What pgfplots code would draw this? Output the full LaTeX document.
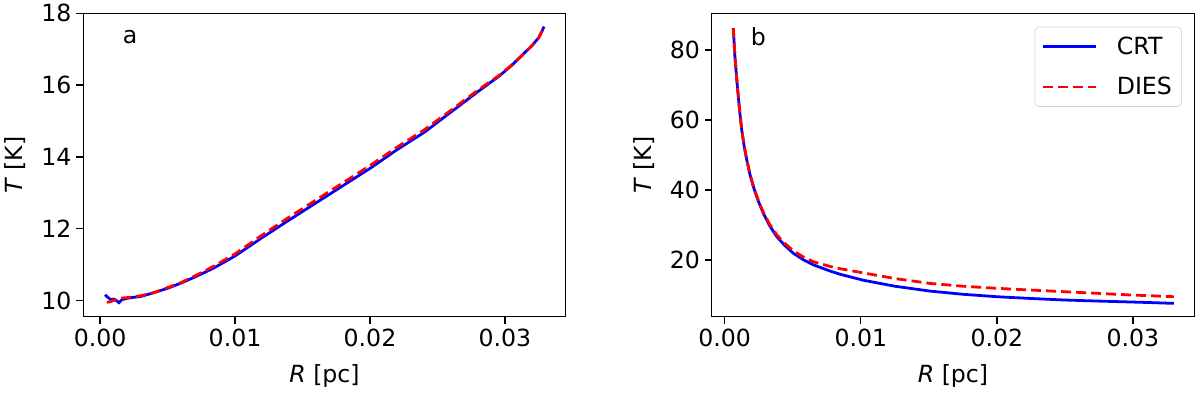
\documentclass[border=0pt]{standalone}
\usepackage{fontspec}
\setmainfont{DejaVu Sans}[ItalicFont={DejaVu Sans Oblique}]
\usepackage{pgfplots}
\pgfplotsset{compat=1.18}

% temperature profiles, panel a
\pgfplotstableread{
R T
0.00037 10.16
0.0006 10.08
0.0008 10.02
0.0010 10.04
0.0012 10.00
0.0014 9.94
0.0016 10.02
0.0020 10.06
0.0025 10.09
0.0030 10.11
0.0040 10.22
0.0050 10.34
0.0059 10.47
0.0070 10.65
0.0084 10.90
0.0100 11.24
0.0120 11.75
0.0140 12.24
0.0160 12.72
0.0180 13.20
0.0200 13.68
0.0220 14.20
0.0240 14.68
0.0260 15.25
0.0280 15.82
0.0296 16.26
0.0305 16.55
0.0314 16.88
0.0320 17.10
0.0325 17.32
0.0329 17.63
}\crta
\pgfplotstableread{
R T
0.0005 9.95
0.0008 9.97
0.0012 10.04
0.0016 10.07
0.0020 10.08
0.0030 10.13
0.0040 10.22
0.0050 10.36
0.0060 10.50
0.0070 10.68
0.0084 10.95
0.0100 11.30
0.0120 11.82
0.0140 12.32
0.0160 12.80
0.0180 13.28
0.0200 13.76
0.0220 14.27
0.0240 14.75
0.0260 15.30
0.0280 15.86
0.0296 16.28
0.0305 16.56
0.0314 16.88
0.0320 17.10
0.0325 17.32
0.0329 17.60
}\diesa
% panel b
\pgfplotstableread{
R T
0.00063 86.2
0.00075 78.0
0.00093 69.5
0.00110 62.5
0.00125 57.1
0.00145 52.0
0.00162 48.6
0.00185 44.5
0.00210 41.0
0.00245 37.0
0.00284 33.3
0.0033 29.8
0.00382 26.7
0.0044 24.2
0.00505 21.9
0.0058 20.0
0.00652 18.6
0.0077 16.9
0.0085 15.9
0.0102 14.2
0.0125 12.5
0.0151 11.1
0.0175 10.2
0.0200 9.5
0.0225 9.0
0.0249 8.57
0.0275 8.25
0.0298 8.0
0.0315 7.8
0.0330 7.6
}\crtb
\pgfplotstableread{
R T
0.00063 86.3
0.00075 78.1
0.00093 69.6
0.00110 62.6
0.00125 57.2
0.00145 52.1
0.00162 48.7
0.00185 44.6
0.00210 41.2
0.00245 37.2
0.00284 33.6
0.0033 30.2
0.00382 27.2
0.0044 24.8
0.00505 22.6
0.0058 20.8
0.00652 19.5
0.0077 18.2
0.0085 17.5
0.0102 16.3
0.0125 14.7
0.0151 13.3
0.0175 12.5
0.0200 11.9
0.0225 11.4
0.0249 10.95
0.0275 10.45
0.0298 10.0
0.0315 9.75
0.0330 9.5
}\diesb

\pgfplotsset{
  panel/.style={
    scale only axis, width=347.3pt, height=218.4pt,
    axis line style={line width=0.9pt},
    tick align=outside, major tick length=5pt,
    every tick/.style={black, line width=0.9pt},
    xtick pos=left, ytick pos=left,
    /pgf/number format/assume math mode=true,
    tick label style={font=\fontsize{17}{20}\selectfont},
    label style={font=\fontsize{17}{20}\selectfont},
    xtick={0,0.01,0.02,0.03}, xticklabels={0.00,0.01,0.02,0.03},
    scaled x ticks=false,
    xlabel={\textit{R} [pc]}, ylabel={\textit{T} [K]},
    xlabel style={at={(axis description cs:0.5,-0.195)}, anchor=center},
    ylabel style={at={(axis description cs:-0.141,0.5)}, anchor=center},
  },
  crt/.style={blue, line width=2pt},
  dies/.style={red, line width=2pt, dash pattern=on 7.2pt off 3.6pt},
}

\begin{document}
\begin{tikzpicture}[font=\fontsize{17}{20}\selectfont]
\useasboundingbox (-60pt,-55.66pt) rectangle (804pt,228pt);
\begin{axis}[panel, at={(0,0)}, anchor=south west,
    xmin=-0.00124, xmax=0.0345, ymin=9.55, ymax=18.0,
    ytick={10,12,14,16,18}]
\addplot[crt] table[x=R,y=T] {\crta};
\addplot[dies] table[x=R,y=T] {\diesa};
\node at (axis description cs:0.0968,0.9229) {a};
\end{axis}
\begin{axis}[panel, at={(452.5pt,0)}, anchor=south west,
    xmin=-0.00095, xmax=0.0345, ymin=3.8, ymax=90.5,
    ytick={20,40,60,80},
    legend style={at={(axis description cs:0.9745,0.9558)}, anchor=north east,
      draw=black!20, rounded corners=3pt, fill=white,
      font=\fontsize{17}{20}\selectfont, inner xsep=5pt, inner ysep=5pt,
      row sep=11pt, nodes={inner sep=2pt}},
    legend cell align=left,
    legend image code/.code={\draw[#1] (0pt,0pt) -- (38pt,0pt); \path (50pt,0pt);}]
\addplot[crt] table[x=R,y=T] {\crtb};
\addlegendentry{CRT}
\addplot[dies] table[x=R,y=T] {\diesb};
\addlegendentry{DIES}
\node at (axis description cs:0.0964,0.9229) {b};
\end{axis}
\end{tikzpicture}
\end{document}
